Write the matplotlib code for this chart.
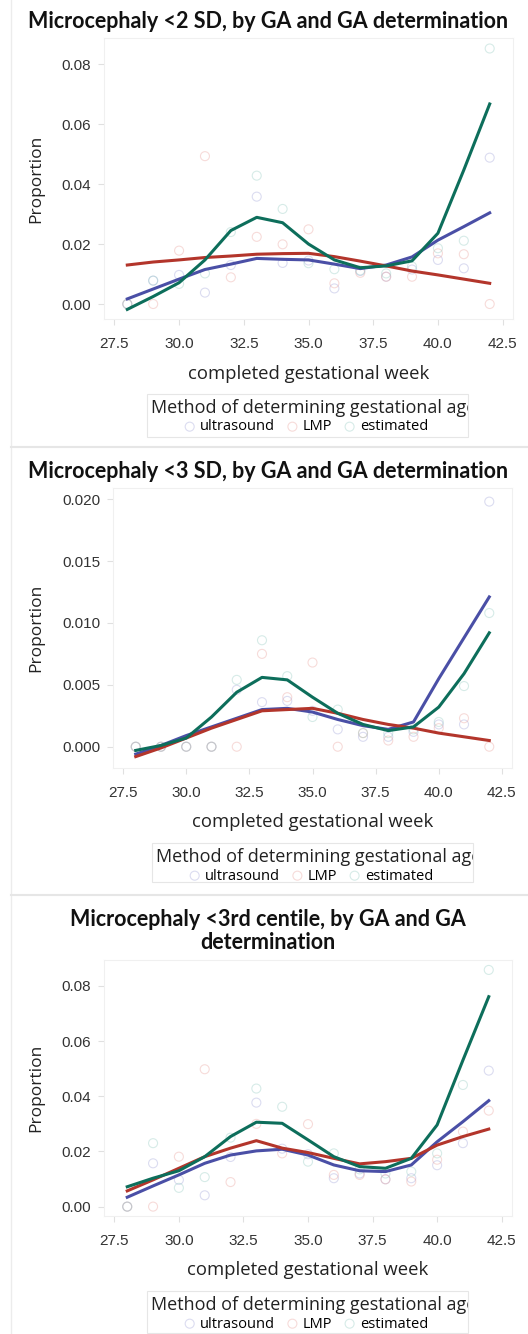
import matplotlib
matplotlib.use('Agg')
import matplotlib.pyplot as plt
from matplotlib.patches import Rectangle
from matplotlib.lines import Line2D
from matplotlib.transforms import Bbox, TransformedBbox

# completed gestational week
weeks = [28, 29, 30, 31, 32, 33, 34, 35, 36, 37, 38, 39, 40, 41, 42]
methods = ['ultrasound', 'LMP', 'estimated']

# panel 1: <2 SD  (smoothed lines)
sd2_us_line = [0.0017, 0.005, 0.0083, 0.0115, 0.0133, 0.0152, 0.0149, 0.0147, 0.0133, 0.0118, 0.013, 0.0157, 0.0213, 0.0258, 0.0304]
sd2_lmp_line = [0.013, 0.014, 0.0147, 0.0155, 0.016, 0.0166, 0.0168, 0.0169, 0.0158, 0.0143, 0.0127, 0.011, 0.0097, 0.0083, 0.0069]
sd2_est_line = [-0.0018, 0.0025, 0.0071, 0.0147, 0.0245, 0.0289, 0.0271, 0.0200, 0.0147, 0.0121, 0.0127, 0.0144, 0.0236, 0.0447, 0.0667]
# panel 1 observed proportions
sd2_us_pts = [0.0, 0.0078, 0.0097, 0.0038, 0.013, 0.0358, 0.0137, 0.0145, 0.0052, 0.011, 0.0091, 0.0115, 0.0147, 0.0119, 0.0488]
sd2_lmp_pts = [0.0, 0.0, 0.0178, 0.0493, 0.0089, 0.0224, 0.0199, 0.0249, 0.0069, 0.0104, 0.0091, 0.0091, 0.0169, 0.0166, 0.0]
sd2_est_pts = [0.0, 0.0078, 0.0067, 0.0102, 0.024, 0.0428, 0.0317, 0.0136, 0.0116, 0.0112, 0.0102, 0.0125, 0.0186, 0.0211, 0.0852]

# panel 2: <3 SD
sd3_us_line = [-0.0006, 0.0001, 0.0009, 0.0016, 0.0023, 0.003, 0.0031, 0.0028, 0.0022, 0.0017, 0.0014, 0.002, 0.0055, 0.0088, 0.0121]
sd3_lmp_line = [-0.0008, -0.0001, 0.0007, 0.0015, 0.0022, 0.0029, 0.003, 0.0031, 0.0027, 0.0022, 0.0018, 0.0015, 0.0011, 0.0008, 0.0005]
sd3_est_line = [-0.0003, 0.0001, 0.0007, 0.0024, 0.0044, 0.0056, 0.0054, 0.004, 0.0027, 0.0018, 0.0013, 0.0016, 0.0032, 0.0059, 0.0092]
sd3_us_pts = [0.0, 0.0, 0.0, 0.0, 0.0046, 0.0036, 0.0037, 0.0029, 0.0014, 0.0008, 0.0008, 0.0012, 0.0018, 0.0018, 0.0198]
sd3_lmp_pts = [0.0, 0.0, 0.0, 0.0, 0.0, 0.0075, 0.004, 0.0068, 0.0, 0.0011, 0.0005, 0.0008, 0.0015, 0.0023, 0.0]
sd3_est_pts = [0.0, 0.0, 0.0, 0.0, 0.0054, 0.0086, 0.0057, 0.0024, 0.003, 0.0011, 0.0011, 0.0014, 0.002, 0.0049, 0.0108]

# panel 3: <3rd centile
c3_us_line = [0.0034, 0.0075, 0.0115, 0.0157, 0.0187, 0.0202, 0.0208, 0.0187, 0.0151, 0.013, 0.0127, 0.0151, 0.0235, 0.0308, 0.0384]
c3_lmp_line = [0.0057, 0.0097, 0.0139, 0.0181, 0.0212, 0.0239, 0.0212, 0.0196, 0.0175, 0.0155, 0.0163, 0.0175, 0.0223, 0.0254, 0.0281]
c3_est_line = [0.0072, 0.0103, 0.013, 0.0181, 0.0254, 0.0306, 0.0302, 0.0242, 0.0181, 0.0145, 0.0139, 0.0175, 0.0296, 0.0531, 0.0761]
c3_us_pts = [0.0, 0.0157, 0.0097, 0.0041, 0.018, 0.0377, 0.021, 0.019, 0.0103, 0.012, 0.0099, 0.0103, 0.015, 0.023, 0.0493]
c3_lmp_pts = [0.0, 0.0, 0.0181, 0.0498, 0.0089, 0.03, 0.0193, 0.0299, 0.0115, 0.0115, 0.0099, 0.0091, 0.017, 0.0272, 0.0348]
c3_est_pts = [0.0, 0.023, 0.0068, 0.0107, 0.025, 0.0428, 0.0362, 0.0163, 0.0193, 0.0135, 0.012, 0.0127, 0.0193, 0.0441, 0.0858]

titles = ['Microcephaly <2 SD, by GA and GA determination',
          'Microcephaly <3 SD, by GA and GA determination',
          'Microcephaly <3rd centile, by GA and GA\ndetermination']
xticks = [27.5, 30.0, 32.5, 35.0, 37.5, 40.0, 42.5]
yticks_a = [0.00, 0.02, 0.04, 0.06, 0.08]
yticks_b = [0.000, 0.005, 0.010, 0.015, 0.020]

line_cols = ['#4a4fa6', '#b3352b', '#0d6e5b']
pt_cols = ['#9a9dd6', '#e89a94', '#8cc7bd']

W, H = 528, 1334
fig = plt.figure(figsize=(W / 100, H / 100), dpi=100)

def fx(px):
    return px / W

def fy(py):
    return 1 - py / H

# layout of each panel in pixels
panels = [
    dict(box=(104, 38, 513, 319), ylim=(-0.005, 0.0887), yt=yticks_a, fmt='%.2f',
         lines=(sd2_us_line, sd2_lmp_line, sd2_est_line), pts=(sd2_us_pts, sd2_lmp_pts, sd2_est_pts),
         title_y=22, xlab_y=374, leg=(147, 394, 468, 437)),
    dict(box=(113, 488, 512, 768), ylim=(-0.00172, 0.0209), yt=yticks_b, fmt='%.3f',
         lines=(sd3_us_line, sd3_lmp_line, sd3_est_line), pts=(sd3_us_pts, sd3_lmp_pts, sd3_est_pts),
         title_y=471, xlab_y=822, leg=(152, 843, 473, 882)),
    dict(box=(104, 960, 512, 1216), ylim=(-0.0034, 0.0894), yt=yticks_a, fmt='%.2f',
         lines=(c3_us_line, c3_lmp_line, c3_est_line), pts=(c3_us_pts, c3_lmp_pts, c3_est_pts),
         title_y=931, xlab_y=1270, leg=(147, 1291, 468, 1333)),
]

for i, p in enumerate(panels):
    l, t, r, b = p['box']
    ax = fig.add_axes([fx(l), fy(b), (r - l) / W, (b - t) / H])
    sc = []
    for k in range(3):
        s = ax.scatter(weeks, p['pts'][k], s=42, facecolors='none', edgecolors=pt_cols[k],
                       linewidths=0.8, alpha=0.35, zorder=2)
        sc.append(s)
    for k in range(3):
        ax.plot(weeks, p['lines'][k], color=line_cols[k], lw=2.2, zorder=3)
    ax.set_xlim(27.1, 42.9)
    ax.set_ylim(*p['ylim'])
    ax.set_xticks(xticks)
    ax.set_xticklabels(['%.1f' % v for v in xticks])
    ax.set_yticks(p['yt'])
    ax.set_yticklabels([p['fmt'] % v for v in p['yt']])
    for sp in ax.spines.values():
        sp.set_color('#f0f0f0')
        sp.set_linewidth(0.8)
    ax.tick_params(colors='#e0e0e0', labelcolor='#333333', labelsize=11, length=4)
    ax.tick_params(axis='x', pad=9)
    ax.tick_params(axis='y', pad=5)
    for lab in ax.get_xticklabels() + ax.get_yticklabels():
        lab.set_family('Liberation Sans')
    ax.set_ylabel('Proportion', fontsize=12.5, family='Open Sans', color='#222222')
    ax.yaxis.set_label_coords((44 - l) / (r - l), 0.5)

    # title and x label
    fig.text(fx(268), fy(p['title_y']), titles[i], ha='center', va='center', fontsize=15.5,
             family='Lato', weight='bold', color='#111111', linespacing=1.12)
    fig.text(fx((l + r) / 2), fy(p['xlab_y']), 'completed gestational week', ha='center', va='center',
             fontsize=13.3, family='Open Sans', color='#222222')

    # legend box
    x0, y0, x1, y1 = p['leg']
    fig.add_artist(Rectangle((fx(x0), fy(y1)), (x1 - x0) / W, (y1 - y0) / H, transform=fig.transFigure,
                             fill=False, edgecolor='#e6e6e6', lw=0.8))
    lt = fig.text(fx(x0 + 4), fy(y0 + 14), 'Method of determining gestational age', ha='left', va='center',
                  fontsize=13, family='Open Sans', color='#222222')
    lt.set_clip_box(TransformedBbox(Bbox.from_extents(fx(x0), fy(y1), fx(x1), fy(y0)), fig.transFigure))
    lt.set_clip_on(True)
    ax.legend(sc, methods, ncol=3, loc='center', bbox_to_anchor=(fx((x0 + x1) / 2 - 3), fy(y0 + 33)),
              bbox_transform=fig.transFigure, frameon=False, handletextpad=0.1, columnspacing=0.6,
              handlelength=1.2, borderpad=0, prop={'family': 'Open Sans', 'size': 10.5})

# faint frame lines between panels
fig.add_artist(Line2D([fx(11), fx(11)], [0, 1], transform=fig.transFigure, color='#ececec', lw=1))
for yy in (447, 895):
    fig.add_artist(Line2D([fx(11), 1], [fy(yy), fy(yy)], transform=fig.transFigure, color='#e6e6e6', lw=1.5))

plt.savefig('out.png', dpi=100)
